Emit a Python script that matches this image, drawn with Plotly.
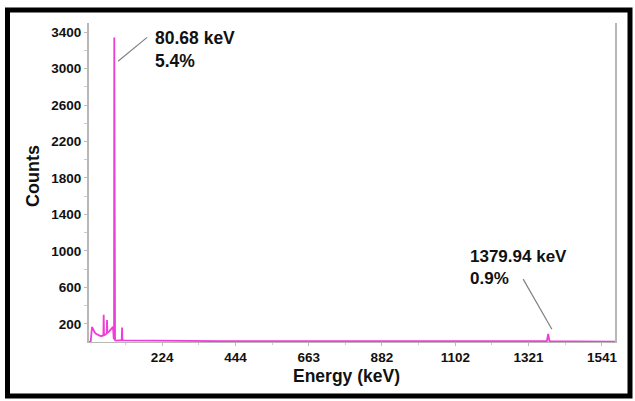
import plotly.graph_objects as go

# Spectrum (energy in keV, counts)
energy = [5, 10, 14, 18, 22, 26, 30, 34, 38, 42, 46, 48, 49, 50, 52, 55, 58, 59, 60, 62,
          66, 70, 74, 77, 79, 80, 80.68, 81.6, 83, 86, 95, 100, 103, 104, 105, 110,
          150, 200, 250, 300, 400, 500, 600, 700, 800, 900, 1000, 1100, 1200, 1300,
          1370, 1376, 1379.94, 1384, 1450, 1580]
counts = [0, 0, 165, 130, 105, 90, 80, 72, 68, 66, 68, 72, 300, 75, 78, 85, 95, 240, 100, 105,
          120, 135, 150, 165, 40, 30, 3340, 1550, 20, 16, 18, 18, 20, 160, 20, 18,
          16, 14, 12, 10, 9, 8, 8, 7, 7, 7, 6, 6, 6, 6,
          6, 8, 90, 7, 6, 5]

x_tickvals = [224, 444, 663, 882, 1102, 1321, 1541]
x_ticktext = ["224", "444", "663", "882", "1102", "1321", "1541"]
y_tickvals = [200, 600, 1000, 1400, 1800, 2200, 2600, 3000, 3400]

peak_labels = ["80.68 keV<br>5.4%", "1379.94 keV<br>0.9%"]

W, H = 635, 401
ml, mr, mt, mb = 89, 20, 23, 59
pw, ph = W - ml - mr, H - mt - mb

def px_x(p):
    return (p - ml) / pw

def px_y(p):
    return (H - mb - p) / ph

fig = go.Figure()
fig.add_trace(go.Scatter(x=energy, y=counts, mode="lines",
                         line=dict(color="#f03cd8", width=1.8),
                         hoverinfo="skip", showlegend=False))

font = "Arial, Liberation Sans, sans-serif"
tfont = dict(family=font, size=13.5, color="#111111", weight="bold")

fig.update_layout(
    width=W, height=H,
    margin=dict(l=ml, r=mr, t=mt, b=mb, autoexpand=False),
    paper_bgcolor="white", plot_bgcolor="white",
    xaxis=dict(range=[5, 1580], tickmode="array", tickvals=x_tickvals, ticktext=x_ticktext,
               showgrid=False, zeroline=False, showline=True, linecolor="#b8b8b8", linewidth=1,
               ticks="outside", ticklen=3, tickcolor="#bbbbbb", tickfont=tfont,
               minor=dict(tickvals=[114, 334, 553, 772, 992, 1211, 1431], ticks="outside",
                          ticklen=2, tickcolor="#cccccc")),
    yaxis=dict(range=[0, 3500], tickmode="array", tickvals=y_tickvals,
               showgrid=False, zeroline=False, showline=True, mirror=True,
               linecolor="#b8b8b8", linewidth=2,
               ticks="outside", ticklen=3, tickcolor="#bbbbbb", tickfont=tfont,
               minor=dict(tickvals=[400, 800, 1200, 1600, 2000, 2400, 2800, 3200],
                          ticks="outside", ticklen=3, tickcolor="#cccccc")),
)

# axis titles
fig.add_annotation(xref="paper", yref="paper", x=px_x(346), y=px_y(376),
                   xanchor="center", yanchor="middle",
                   text="<b>Energy (keV)</b>", showarrow=False,
                   font=dict(family=font, size=17.5, color="#111111"))
fig.add_annotation(xref="paper", yref="paper", x=px_x(33), y=px_y(176),
                   xanchor="center", yanchor="middle",
                   text="<b>Counts</b>", showarrow=False, textangle=-90,
                   font=dict(family=font, size=18, color="#111111"))

# peak labels
fig.add_annotation(x=197, y=3470, xref="x", yref="y", xanchor="left", yanchor="top",
                   text="<b>" + peak_labels[0].replace("<br>", "</b><br><b>") + "</b>",
                   showarrow=False, align="left",
                   font=dict(family=font, size=17.5, color="#111111"))
fig.add_annotation(x=1140, y=1065, xref="x", yref="y", xanchor="left", yanchor="top",
                   text="<b>" + peak_labels[1].replace("<br>", "</b><br><b>") + "</b>",
                   showarrow=False, align="left",
                   font=dict(family=font, size=17, color="#111111"))

# leader lines
fig.add_shape(type="line", xref="x", yref="y", x0=92, y0=3080, x1=179, y1=3342,
              line=dict(color="#808080", width=1.2))
fig.add_shape(type="line", xref="x", yref="y", x0=1305, y0=690, x1=1391, y1=140,
              line=dict(color="#808080", width=1.2))

# outer black frame
fig.add_shape(type="rect", xref="paper", yref="paper",
              x0=px_x(7.5), x1=px_x(630), y0=px_y(396), y1=px_y(10),
              line=dict(color="black", width=5), fillcolor="rgba(0,0,0,0)", layer="above")

fig.write_html("out.html", config={"displayModeBar": False},
               post_script="document.body.style.margin='0';")
